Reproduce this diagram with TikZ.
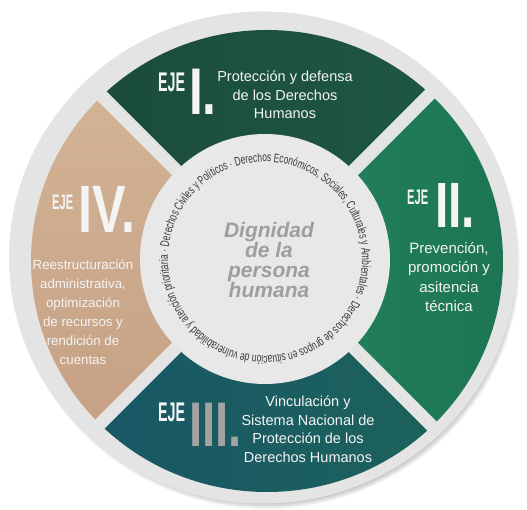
\documentclass[tikz,border=0pt]{standalone}
\usepackage{fontspec}
\setmainfont{Liberation Sans}
\newfontfamily\ejefont[FakeStretch=0.53]{Liberation Sans}
\newfontfamily\numfont[FakeStretch=0.75]{Liberation Sans}
\newfontfamily\ringfont[FakeStretch=0.67]{Liberation Sans}
\usepackage{tikz}
\usetikzlibrary{decorations.text}

\definecolor{ringgray}{HTML}{E4E4E4}
\definecolor{innergray}{HTML}{E8E8E8}
\definecolor{ejeIa}{HTML}{1A4838}
\definecolor{ejeIb}{HTML}{1F5A49}
\definecolor{ejeIIa}{HTML}{22845D}
\definecolor{ejeIIb}{HTML}{1A6B4B}
\definecolor{ejeIIIa}{HTML}{17536A}
\definecolor{ejeIIIb}{HTML}{1E6657}
\definecolor{ejeIVa}{HTML}{D7BA9B}
\definecolor{ejeIVb}{HTML}{C29A7F}
\definecolor{numgray}{HTML}{A3A3A3}
\definecolor{dignigray}{HTML}{9E9E9E}
\definecolor{circtext}{HTML}{3A3A3A}
\definecolor{lighttext}{HTML}{F4F4F4}

\begin{document}
\begin{tikzpicture}[x=1pt, y=1pt,
    eje/.style={anchor=base west, inner sep=0pt, text=lighttext,
        font=\ejefont\bfseries\fontsize{#1}{#1}\selectfont},
    numeral/.style={anchor=base west, inner sep=0pt, text=lighttext,
        font=\numfont\bfseries\fontsize{#1}{#1}\selectfont},
    axistext/.style 2 args={align=center, inner sep=0pt, text=lighttext,
        font=\fontsize{#1}{#2}\selectfont},
    gap/.style={ringgray, line width=13pt}]

    \useasboundingbox[fill=white] (-265,-251) rectangle (262,259);

    % Shadow and outer ring
    \foreach \r in {1,...,8} {
        \fill[black, opacity=0.035] (1,-4) ellipse ({246+\r} and {238+\r});
    }
    \fill[ringgray] (-2,1.5) ellipse (254 and 246);

    % The four axes
    \begin{scope}
        \clip (2,-2) ellipse (236 and 231);
        \shade[left color=ejeIa, right color=ejeIb]
            (0,0) -- (45:400) -- (90:400) -- (135:400) -- cycle;
        \shade[left color=ejeIIa, right color=ejeIIb]
            (0,0) -- (-45:400) -- (0:400) -- (45:400) -- cycle;
        \shade[left color=ejeIIIa, right color=ejeIIIb]
            (0,0) -- (225:400) -- (270:400) -- (315:400) -- cycle;
        \shade[top color=ejeIVa, bottom color=ejeIVb]
            (0,0) -- (135:400) -- (180:400) -- (225:400) -- cycle;
    \end{scope}

    % Gaps between the axes
    \foreach \a in {45,135,225,315} {
        \draw[gap] (0,0) -- (\a:245);
    }
    \fill[innergray] (0,0) circle (125);

    % Eje I
    \node[eje=27] (ejeI) at (-107,167) {EJE};
    \node[numeral=66] (numI) at (-76,144) {I.};
    \node[axistext={14.5}{18.5}] (textI) at (20,164)
        {Protección y defensa\\de los Derechos\\Humanos};

    % Eje II
    \node[eje=21] (ejeII) at (142,54) {EJE};
    \node[numeral=64] (numII) at (170,31) {II.};
    \node[axistext={15}{19.5}] (textII) at (184,-18)
        {Prevención,\\promoción y\\asitencia\\técnica};

    % Eje III
    \node[eje=27] (ejeIII) at (-107,-163) {EJE};
    \node[numeral=63, text=numgray] (numIII) at (-76,-188) {III.};
    \node[axistext={14.5}{18.5}] (textIII) at (43,-170)
        {Vinculación y\\Sistema Nacional de\\Protección de los\\Derechos Humanos};

    % Eje IV
    \node[eje=21] (ejeIV) at (-213,49) {EJE};
    \node[numeral=67] (numIV) at (-187,26) {IV.};
    \node[axistext={13.3}{19}] (textIV) at (-182,-53)
        {Reestructuración\\administrativa,\\optimización\\de recursos y\\rendición de\\cuentas};

    % Center
    \node[align=center, text=dignigray, font=\bfseries\itshape\fontsize{21}{19.5}\selectfont]
        (dignidad) at (4,-1) {Dignidad\\de la\\persona\\humana};

    % Rights around the center
    \path[decorate, decoration={text along path, text align=fit to path,
        text color=circtext,
        text={|\ringfont\fontsize{12.5}{12.5}\selectfont|Derechos Civiles y Políticos · Derechos Económicos, Sociales, Culturales y Ambientales · Derechos de grupos en situación de vulnerabilidad y atención prioritaria ·}}]
        (173:97) arc (173:-185:97);
\end{tikzpicture}
\end{document}
